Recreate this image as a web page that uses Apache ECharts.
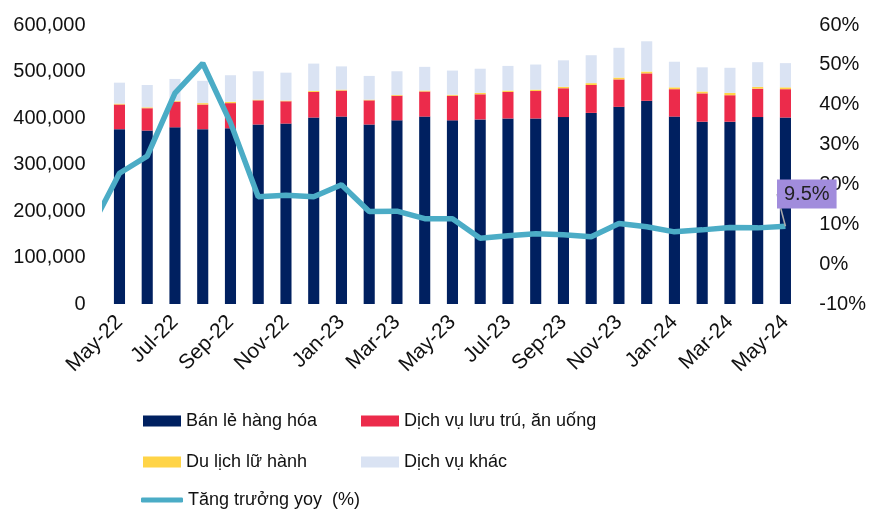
<!DOCTYPE html>
<html>
<head>
<meta charset="utf-8">
<script src="https://cdn.jsdelivr.net/npm/echarts@6/dist/echarts.min.js"></script>
<style>
  html, body { margin: 0; padding: 0; background: #fff; }
  #chart { width: 869px; height: 511px; }
</style>
</head>
<body>
<div id="chart"></div>
<script>
const months = ['May-22', 'Jun-22', 'Jul-22', 'Aug-22', 'Sep-22', 'Oct-22', 'Nov-22', 'Dec-22',
  'Jan-23', 'Feb-23', 'Mar-23', 'Apr-23', 'May-23', 'Jun-23', 'Jul-23', 'Aug-23', 'Sep-23',
  'Oct-23', 'Nov-23', 'Dec-23', 'Jan-24', 'Feb-24', 'Mar-24', 'Apr-24', 'May-24']
const retail = [376000, 373000, 380000, 376000, 378000, 386000, 388000, 401000, 403000, 386000, 395000, 403000,
  395000, 397000, 399000, 399000, 402000, 411000, 424000, 437000, 403000, 392000, 392000, 402000, 401000]
const lodging = [53000, 48000, 55000, 53000, 54000, 52000, 48000, 55000, 56000, 52000, 53000, 54000,
  53000, 54000, 57000, 59000, 62000, 60000, 59000, 59000, 59000, 61000, 57000, 61000, 61000]
const travel = [2000, 2000, 2000, 3000, 3000, 1500, 1500, 2000, 2000, 1500, 1500, 2000,
  2000, 3000, 3000, 3000, 3000, 4000, 4000, 4000, 4000, 4000, 5000, 4000, 4000]
const others = [45000, 48000, 47000, 48000, 57000, 61000, 60000, 59000, 50000, 51000, 51000, 51000,
  52000, 52000, 53000, 54000, 57000, 60000, 64000, 65000, 55000, 52000, 54000, 53000, 52000]
// growth of the month before May-22, only its segment shows at the left edge
const growthPrev = 9.4
const growth = [22.8, 27.1, 42.9, 50.4, 35.5, 16.9, 17.3, 16.9, 19.9, 13.2, 13.3, 11.4, 11.4,
  6.5, 7.1, 7.6, 7.4, 6.9, 10.2, 9.4, 8.1, 8.6, 9.2, 9.1, 9.5]
const leftTicks = [0, 600000, 100000]
const rightTicks = [-10, 60, 10]

const font = 'Liberation Sans, Arial, sans-serif'

function initChart () {
  const chart = echarts.init(document.getElementById('chart'))
  const lineData = [[-1, growthPrev]].concat(growth.map(function (v, i) { return [i, v] }))
  const lastIndex = lineData.length - 1
  lineData[lastIndex] = { value: lineData[lastIndex], label: { show: true } }
  const legendText = { fontFamily: font, fontSize: 18, color: '#111', lineHeight: 20 }
  const option = {
    animation: false,
    textStyle: { fontFamily: font },
    grid: { left: 105.6, right: 66.6, top: 25, bottom: 207 },
    legend: [
      {
        left: 138, top: 406, orient: 'vertical', itemGap: 21,
        itemWidth: 38, itemHeight: 11, icon: 'rect',
        data: ['Bán lẻ hàng hóa', 'Du lịch lữ hành'], textStyle: legendText
      },
      {
        left: 356, top: 406, orient: 'vertical', itemGap: 21,
        itemWidth: 38, itemHeight: 11, icon: 'rect',
        data: ['Dịch vụ lưu trú, ăn uống', 'Dịch vụ khác'], textStyle: legendText
      },
      {
        left: 136, top: 485, itemWidth: 42, itemHeight: 5, icon: 'roundRect',
        data: ['Tăng trưởng yoy  (%)'], textStyle: legendText
      }
    ],
    xAxis: [
      {
        type: 'category',
        data: months,
        axisLine: { show: false },
        axisTick: { show: false },
        axisLabel: { interval: 1, rotate: 45, margin: 15, fontSize: 21, color: '#111', fontFamily: font }
      },
      { type: 'value', min: -0.5, max: 24.5, show: false }
    ],
    yAxis: [
      {
        type: 'value',
        min: leftTicks[0], max: leftTicks[1], interval: leftTicks[2],
        axisLine: { show: false },
        axisTick: { show: false },
        splitLine: { show: false },
        axisLabel: {
          margin: 20, fontSize: 20, color: '#111',
          formatter: function (v) { return v.toLocaleString('en-US') }
        }
      },
      {
        type: 'value',
        min: rightTicks[0], max: rightTicks[1], interval: rightTicks[2],
        axisLine: { show: false },
        axisTick: { show: false },
        splitLine: { show: false },
        axisLabel: { margin: 20, fontSize: 20, color: '#111', formatter: '{value}%' }
      }
    ],
    series: [
      { name: 'Bán lẻ hàng hóa', type: 'bar', stack: 'a', barWidth: '40%', data: retail, itemStyle: { color: '#002060' } },
      { name: 'Dịch vụ lưu trú, ăn uống', type: 'bar', stack: 'a', data: lodging, itemStyle: { color: '#ec2b4b' } },
      { name: 'Du lịch lữ hành', type: 'bar', stack: 'a', data: travel, itemStyle: { color: '#ffd447' } },
      { name: 'Dịch vụ khác', type: 'bar', stack: 'a', data: others, itemStyle: { color: '#dae3f3' } },
      {
        name: 'Tăng trưởng yoy  (%)',
        type: 'line',
        xAxisIndex: 1,
        yAxisIndex: 1,
        data: lineData,
        symbol: 'circle',
        symbolSize: 0,
        lineStyle: { color: '#4bacc6', width: 5.5 },
        itemStyle: { color: '#4bacc6' },
        label: {
          show: false,
          formatter: function (p) { return p.value[1].toFixed(1) + '%' },
          backgroundColor: '#a18cdc',
          padding: [5, 7, 4, 7],
          fontSize: 20,
          color: '#222'
        },
        labelLayout: function (p) {
          if (p.dataIndex !== lastIndex) return {}
          return { x: 777, y: 194, align: 'left', verticalAlign: 'middle' }
        },
        labelLine: { show: true, lineStyle: { color: '#aaa', width: 1.5 } }
      }
    ]
  }
  chart.setOption(option)
}

initChart()
</script>
</body>
</html>
